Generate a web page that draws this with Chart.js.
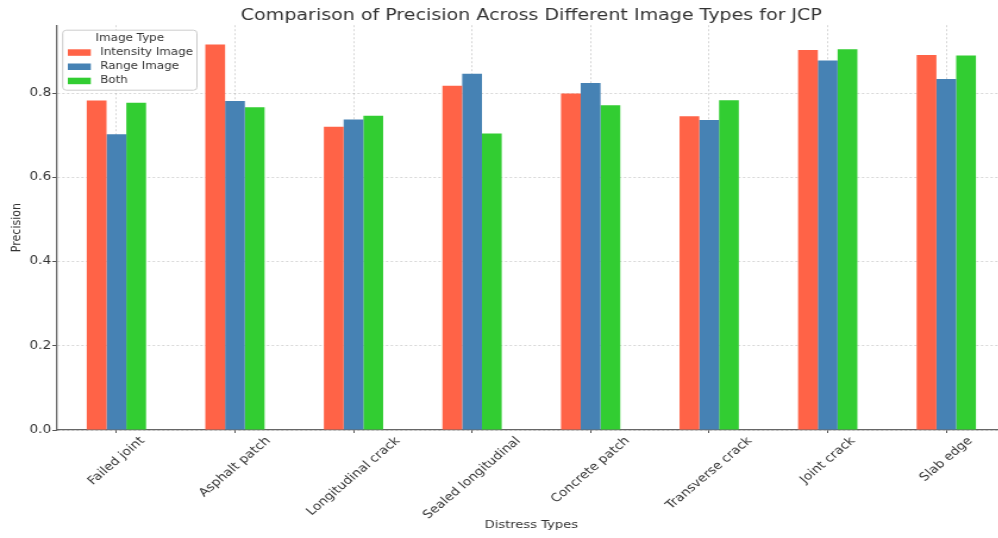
<!DOCTYPE html>
<html>
<head>
<meta charset="utf-8">
<script src="https://cdn.jsdelivr.net/npm/chart.js@4.4.1/dist/chart.umd.min.js"></script>
<style>
  html, body { margin: 0; padding: 0; background: #ffffff; overflow: hidden; width: 998px; height: 538px; }
  #c { display: block; transform: scaleX(1.19); transform-origin: 0 0; }
</style>
</head>
<body>
<canvas id="c" width="845" height="538"></canvas>
<script>
// ---- data ----
const categories = ["Failed joint", "Asphalt patch", "Longitudinal crack", "Sealed longitudinal",
                    "Concrete patch", "Transverse crack", "Joint crack", "Slab edge"];
const seriesNames = ["Intensity Image", "Range Image", "Both"];
const intensityImage = [0.782, 0.915, 0.720, 0.817, 0.799, 0.745, 0.902, 0.890];
const rangeImage     = [0.702, 0.781, 0.737, 0.846, 0.824, 0.736, 0.877, 0.833];
const bothImages     = [0.777, 0.766, 0.746, 0.704, 0.771, 0.783, 0.904, 0.889];
const yTicks = [0.0, 0.2, 0.4, 0.6, 0.8];
const yMax = 0.961;
const titleText = "Comparison of Precision Across Different Image Types for JCP";
const xTitle = "Distress Types";
const yTitle = "Precision";
const legendTitle = "Image Type";

const colors = ["#FF6347", "#4682B4", "#32CD32"];
const FONT = "'DejaVu Sans', 'Liberation Sans', sans-serif";

// legend drawn inside the plot area, top-left
const boxLegend = {
  id: 'boxLegend',
  afterDraw(chart) {
    const ctx = chart.ctx;
    const a = chart.chartArea;
    const x0 = a.left + 4.7, y0 = a.top + 5, w = 112.8, h = 60;
    ctx.save();
    ctx.fillStyle = 'rgba(255,255,255,0.85)';
    ctx.strokeStyle = '#cccccc';
    ctx.lineWidth = 1;
    ctx.beginPath();
    ctx.roundRect(x0, y0, w, h, 3);
    ctx.fill();
    ctx.stroke();
    ctx.fillStyle = '#333333';
    ctx.font = "10px " + FONT;
    ctx.textAlign = 'center';
    ctx.textBaseline = 'middle';
    ctx.fillText(legendTitle, x0 + w / 2, y0 + 8);
    ctx.textAlign = 'left';
    chart.data.datasets.forEach((ds, i) => {
      const cy = y0 + 22.3 + i * 14.2;
      ctx.fillStyle = ds.backgroundColor;
      ctx.fillRect(x0 + 4.3, cy - 3.2, 19.3, 6.5);
      ctx.fillStyle = '#333333';
      ctx.fillText(ds.label, x0 + 31.5, cy);
    });
    ctx.restore();
  }
};

// rotated category labels centred on their ticks
const rotatedLabels = {
  id: 'rotatedLabels',
  afterDraw(chart) {
    const sc = chart.scales.x;
    const ctx = chart.ctx;
    ctx.save();
    ctx.font = "11.5px " + FONT;
    ctx.fillStyle = '#333333';
    ctx.textAlign = 'center';
    ctx.textBaseline = 'middle';
    sc.ticks.forEach((t, i) => {
      const label = chart.data.labels[i];
      const x = sc.getPixelForTick(i);
      const L = ctx.measureText(label).width;
      const cy = sc.top + 5 + (L + 11.5) * 0.7071 / 2;
      ctx.save();
      ctx.translate(x, cy);
      ctx.rotate(-Math.PI / 4);
      ctx.fillText(label, 0, 0);
      ctx.restore();
    });
    ctx.restore();
  }
};

const datasetValues = [intensityImage, rangeImage, bothImages];

new Chart(document.getElementById('c'), {
  type: 'bar',
  data: {
    labels: categories,
    datasets: seriesNames.map((n, i) => ({
      label: n,
      data: datasetValues[i],
      backgroundColor: colors[i],
      borderWidth: 0,
      categoryPercentage: 0.5,
      barPercentage: 1.0
    }))
  },
  options: {
    responsive: false,
    animation: false,
    devicePixelRatio: 1,
    layout: { padding: { left: 0, right: 0, top: 0, bottom: 0 } },
    plugins: {
      legend: { display: false },
      tooltip: { enabled: false },
      title: {
        display: true,
        fullSize: false,
        text: titleText,
        color: '#333333',
        font: { family: FONT, size: 16, weight: 'normal' },
        padding: { top: 6, bottom: 0 }
      }
    },
    scales: {
      x: {
        offset: true,
        grid: {
          display: true,
          offset: false,
          color: 'rgba(0,0,0,0.16)',
          drawTicks: true,
          tickLength: 3,
          tickColor: '#555555'
        },
        border: { display: true, color: '#666666', width: 1.3, dash: [2, 2] },
        ticks: { display: false },
        title: {
          display: true,
          text: xTitle,
          color: '#333333',
          font: { family: FONT, size: 11 },
          padding: { top: 0, bottom: 6.4 }
        },
        afterFit(scale) { scale.height = 108; }
      },
      y: {
        min: 0,
        max: yMax,
        grid: {
          color: 'rgba(0,0,0,0.16)',
          drawTicks: true,
          tickLength: 4,
          tickColor: '#555555'
        },
        border: { display: true, color: '#666666', width: 1.3, dash: [2, 2] },
        ticks: {
          stepSize: 0.2,
          padding: 1,
          color: '#333333',
          font: { family: FONT, size: 11.5 },
          callback: (v) => Number(v).toFixed(1)
        },
        afterBuildTicks(scale) {
          scale.ticks = yTicks.map(v => ({ value: v }));
        },
        title: {
          display: true,
          text: yTitle,
          color: '#333333',
          font: { family: FONT, size: 11 },
          padding: { top: 7.7, bottom: 0 }
        },
        afterFit(scale) { scale.width = 48; }
      }
    }
  },
  plugins: [boxLegend, rotatedLabels]
});
</script>
</body>
</html>
